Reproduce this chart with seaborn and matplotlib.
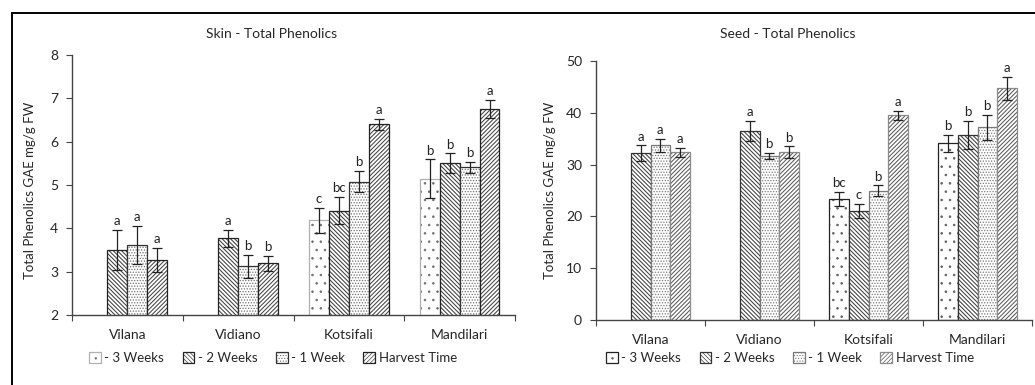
import numpy as np
import pandas as pd
import matplotlib
matplotlib.use("Agg")
import matplotlib.pyplot as plt
from matplotlib.patches import Rectangle
from matplotlib.colors import to_rgba
import seaborn as sns

# ---------------- data ----------------
cultivars = ["Vilana", "Vidiano", "Kotsifali", "Mandilari"]
stages = ["3 Weeks", "2 Weeks", "1 Week", "Harvest Time"]
legend_labels = ["- 3 Weeks", "- 2 Weeks", "- 1 Week", "Harvest Time"]

# Skin: rows = cultivars, columns = stages (NaN = not measured)
skin_mean = [[np.nan, 3.50, 3.62, 3.27],
             [np.nan, 3.77, 3.12, 3.19],
             [4.19, 4.41, 5.08, 6.40],
             [5.15, 5.50, 5.41, 6.75]]
skin_err = [[np.nan, 0.46, 0.44, 0.27],
            [np.nan, 0.19, 0.26, 0.18],
            [0.29, 0.31, 0.24, 0.12],
            [0.44, 0.23, 0.13, 0.21]]
skin_letters = [["", "a", "a", "a"],
                ["", "a", "b", "b"],
                ["c", "bc", "b", "a"],
                ["b", "b", "b", "a"]]

seed_mean = [[np.nan, 32.2, 33.7, 32.35],
             [np.nan, 36.5, 31.65, 32.35],
             [23.4, 21.1, 25.0, 39.5],
             [34.15, 35.75, 37.2, 44.7]]
seed_err = [[np.nan, 1.5, 1.3, 0.85],
            [np.nan, 1.9, 0.6, 1.15],
            [1.4, 1.35, 1.0, 0.85],
            [1.65, 2.75, 2.45, 2.25]]
seed_letters = [["", "a", "a", "a"],
                ["", "a", "b", "b"],
                ["bc", "c", "b", "a"],
                ["b", "b", "b", "a"]]

skin_title = "Skin - Total Phenolics"
seed_title = "Seed - Total Phenolics"
ylabel = "Total Phenolics GAE mg/g FW"
skin_yticks = [2, 3, 4, 5, 6, 7, 8]
seed_yticks = [0, 10, 20, 30, 40, 50]

# ---------------- style ----------------
sns.set_style("white")
plt.rcParams["font.family"] = ["Lato", "DejaVu Sans"]
plt.rcParams["hatch.linewidth"] = 0.5

W, H = 1035, 385
fig = plt.figure(figsize=(W / 100, H / 100), dpi=100)

hatches = ["..", "\\" * 8, "......", "/" * 8]
hatch_lws = [0.6, 0.75, 0.6, 0.75]
skin_edges = ["#b0b0b0", "#222222", "#333333", "#222222"]
skin_hatch_colors = ["#707070", "#404040", "#707070", "#454545"]
seed_edges = ["#222222", "#333333", "#777777", "#8a8a8a"]
seed_hatch_colors = ["#606060", "#404040", "#7a7a7a", "#5a5a5a"]


def make_df(mean):
    rows = []
    for i, c in enumerate(cultivars):
        for j, s in enumerate(stages):
            rows.append({"Cultivar": c, "Stage": s, "value": mean[i][j]})
    return pd.DataFrame(rows)


def style_patch(p, hatch, edge, hcol, hlw):
    p.set_hatch(hatch)
    p.set_edgecolor(edge)
    if hasattr(p, "set_hatchcolor"):
        p.set_hatchcolor(hcol)
    else:
        p._hatch_color = to_rgba(hcol)
    if hasattr(p, "set_hatch_linewidth"):
        p.set_hatch_linewidth(hlw)
    else:
        p._hatch_linewidth = hlw


def panel(rect, mean, err, letters, yticks, edges, hcols, title, title_x,
          ylab_x, leg_x):
    ax = fig.add_axes(rect)
    df = make_df(mean)
    sns.barplot(data=df, x="Cultivar", y="value", hue="Stage",
                order=cultivars, hue_order=stages,
                palette=["white"] * 4, width=0.72, errorbar=None,
                saturation=1, legend=False, ax=ax)
    bar_conts = list(ax.containers)
    handles = []
    for j, cont in enumerate(bar_conts):
        for p in cont.patches:
            style_patch(p, hatches[j], edges[j], hcols[j], hatch_lws[j])
            p.set_linewidth(0.9)
            xc = p.get_x() + p.get_width() / 2
            i = int(round(xc))
            v = mean[i][j]
            e = err[i][j]
            if np.isnan(v):
                continue
            ax.errorbar(xc, v, yerr=e, fmt="none", ecolor="#222222",
                        elinewidth=0.9, capsize=3.5, capthick=0.9, zorder=5)
            ax.annotate(letters[i][j], (xc, v + e), xytext=(0, 2),
                        textcoords="offset points", ha="center", va="bottom",
                        fontsize=9.5, color="#222222")
        if len(cont.patches):
            handles.append(cont.patches[0])
    ax.set_ylim(yticks[0], yticks[-1])
    ax.set_yticks(yticks)
    ax.set_xlim(-0.5, 3.5)
    ax.set_xticks([-0.5, 0.5, 1.5, 2.5, 3.5])
    ax.set_xticklabels([])
    ax.set_xticks(range(4), minor=True)
    ax.set_xticklabels(cultivars, minor=True)
    ax.tick_params(axis="x", which="minor", length=0, pad=10, labelsize=10)
    ax.tick_params(axis="x", which="major", length=4, direction="out",
                   bottom=True, color="#444444")
    ax.tick_params(axis="y", length=4, direction="out", left=True,
                   labelsize=10, color="#444444", pad=6)
    ax.set_xlabel("")
    ax.set_ylabel("")
    for s in ["top", "right"]:
        ax.spines[s].set_visible(False)
    for s in ["left", "bottom"]:
        ax.spines[s].set_color("#444444")
        ax.spines[s].set_linewidth(1.0)
    fig.text(title_x / W, 1 - 34 / H, title, ha="center", va="center",
             fontsize=10)
    fig.text(ylab_x / W, 1 - 190 / H, ylabel, rotation=90, ha="center",
             va="center", fontsize=9.5)
    fig.legend(handles, legend_labels, loc="center",
               bbox_to_anchor=(leg_x / W, 1 - 358 / H),
               bbox_transform=fig.transFigure, ncol=4, frameon=False,
               handlelength=0.9, handleheight=0.9, handletextpad=0.25,
               columnspacing=1.4, fontsize=9.5)
    return ax


panel([72 / W, 1 - 315 / H, (515 - 72) / W, (315 - 55) / H],
      skin_mean, skin_err, skin_letters, skin_yticks, skin_edges,
      skin_hatch_colors, skin_title, 272, 30, 273)
panel([596 / W, 1 - 320 / H, (1032 - 596) / W, (320 - 61) / H],
      seed_mean, seed_err, seed_letters, seed_yticks, seed_edges,
      seed_hatch_colors, seed_title, 788, 550, 790)

# outer frame (left and top edges visible)
fig.patches.append(Rectangle((12 / W, -0.1), 1.2, 1 - 13 / H + 0.1,
                             transform=fig.transFigure, fill=False,
                             edgecolor="black", linewidth=1.4))

fig.savefig("out.png", dpi=100)
